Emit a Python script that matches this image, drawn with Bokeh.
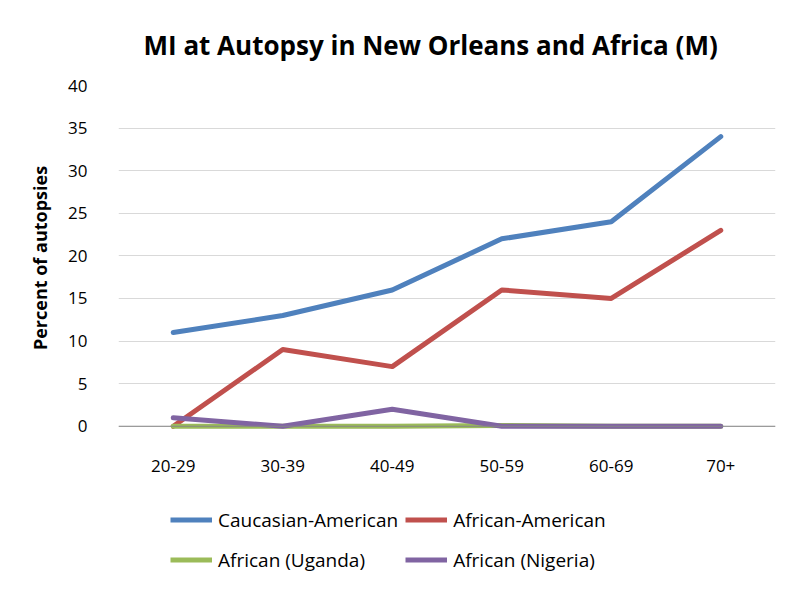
from bokeh.plotting import figure
from bokeh.models import Range1d, FixedTicker, Span, Legend, LegendItem
from bokeh.layouts import column
from bokeh.embed import file_html
from bokeh.resources import INLINE

categories = ["20-29", "30-39", "40-49", "50-59", "60-69", "70+"]
caucasian_american = [11, 13, 16, 22, 24, 34]
african_american = [0, 9, 7, 16, 15, 23]
african_uganda = [0, 0, 0, 0.1, 0, 0]
african_nigeria = [1, 0, 2, 0, 0, 0]
y_ticks = [0, 5, 10, 15, 20, 25, 30, 35, 40]
series_names = ["Caucasian-American", "African-American", "African (Uganda)", "African (Nigeria)"]
series_colors = ["#4F81BD", "#C0504D", "#9BBB59", "#8064A2"]

FONT = "Open Sans"
W = 798

p = figure(width=W, height=480, x_range=categories, y_range=Range1d(-0.5, 40),
           output_backend="svg", toolbar_location=None,
           min_border_left=118, min_border_right=23, min_border_top=85, min_border_bottom=50)

p.title.text = "MI at Autopsy in New Orleans and Africa (M)"
p.title.align = "left"
p.title.offset = 25
p.title.text_font = FONT
p.title.text_font_size = "26px"
p.title.text_font_style = "bold"
p.title.text_color = "#000000"
p.title.standoff = 45

p.outline_line_color = None
p.background_fill_color = "white"
p.border_fill_color = "white"

p.xgrid.grid_line_color = None
p.ygrid.grid_line_color = "#D9D9D9"
p.ygrid.grid_line_width = 1

p.yaxis.ticker = FixedTicker(ticks=y_ticks)
p.yaxis.axis_line_color = None
p.yaxis.major_tick_line_color = None
p.yaxis.minor_tick_line_color = None
p.yaxis.major_label_standoff = 25
p.yaxis.major_label_text_font = FONT
p.yaxis.major_label_text_font_size = "17px"
p.yaxis.major_label_text_color = "#000000"
p.yaxis.axis_label = "Percent of autopsies"
p.yaxis.axis_label_text_font = FONT
p.yaxis.axis_label_text_font_size = "18px"
p.yaxis.axis_label_text_font_style = "bold"
p.yaxis.axis_label_text_color = "#000000"
p.yaxis.axis_label_standoff = 13

p.xaxis.axis_line_color = None
p.xaxis.major_tick_line_color = None
p.xaxis.minor_tick_line_color = None
p.xaxis.major_label_standoff = 23
p.xaxis.major_label_text_font = FONT
p.xaxis.major_label_text_font_size = "17px"
p.xaxis.major_label_text_color = "#000000"

p.add_layout(Span(location=0, dimension="width", line_color="#868686", line_width=1.2))

series_values = [caucasian_american, african_american, african_uganda, african_nigeria]
for vals, color in zip(series_values, series_colors):
    p.line(categories, vals, line_color=color, line_width=5, line_join="round", line_cap="round")

# legend strip below the chart (its frame shows no data: y range lies above all values)
lp = figure(width=W, height=109, x_range=categories, y_range=Range1d(1000, 1001),
            output_backend="svg", toolbar_location=None,
            x_axis_type=None, y_axis_type=None,
            min_border_left=0, min_border_right=0, min_border_top=0, min_border_bottom=0)
lp.outline_line_color = None
lp.xgrid.grid_line_color = None
lp.ygrid.grid_line_color = None
items = []
for name, vals, color in zip(series_names, series_values, series_colors):
    r = lp.line(categories, vals, line_color=color, line_width=5)
    items.append(LegendItem(label=name, renderers=[r]))

legend = Legend(items=items, orientation="horizontal", ncols=2, location=(52, 13),
                glyph_width=42, glyph_height=33, label_height=33, spacing=7,
                label_standoff=6, padding=0, margin=0,
                label_text_font=FONT, label_text_font_size="19px", label_text_color="#000000",
                border_line_color=None, background_fill_alpha=0)
lp.add_layout(legend, "center")

layout = column(p, lp, spacing=0)
open("out.html", "w").write(file_html(layout, INLINE))
